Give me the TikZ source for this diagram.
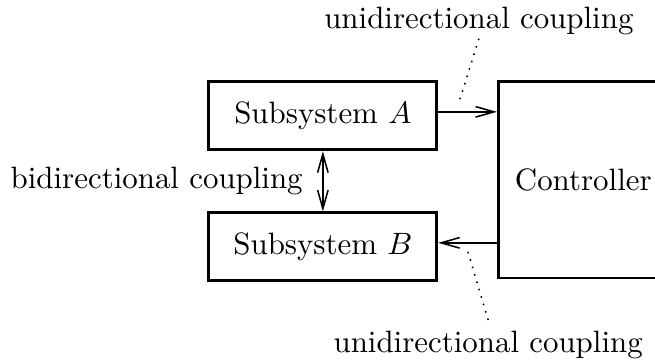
\documentclass[tikz,border=0pt]{standalone}
\usepackage{tikz}
\usetikzlibrary{positioning,arrows.meta}
\tikzset{
  line/.style={->, line width=0.5pt},
  box/.style={draw, line width=0.9pt, align=center, inner sep=3pt},
  subbox/.style={box, minimum width=73.8pt, minimum height=22pt},
  note/.style={dotted, line width=0.5pt}
}

\begin{document}
\begin{tikzpicture}[>={Straight Barb[length=6pt,width=3.4pt]}]
  \path[use as bounding box, clip] (0,0) rectangle (212pt,-117.2pt);

  \node[subbox] (subA) at (104.5pt,-37.5pt) {Subsystem $A$};
  \node[subbox, below=19.5pt of subA] (subB) {Subsystem $B$};
  \node[box, minimum width=55pt, minimum height=63.5pt,
        right=19pt of subA.north east, anchor=north west] (ctrl) {Controller};

  \draw[line] ([yshift=1.3pt]subA.east) -- ([yshift=1.3pt]subA.east -| ctrl.west);
  \draw[line] ([yshift=1.3pt]subB.east -| ctrl.west) -- ([yshift=1.3pt]subB.east);
  \draw[line, <->] (subA) -- coordinate (mid) (subB);

  \node[left=3pt of mid] (bilabel) {bidirectional coupling};
  \node (uniA) at (155pt,-6.9pt) {unidirectional coupling};
  \node (uniB) at (158pt,-111.6pt) {unidirectional coupling};

  % pointers from the labels to the two one-way links
  \coordinate (tipA) at (148.5pt,-33.3pt);
  \coordinate (tipB) at (151.1pt,-80.3pt);
  \draw[note] ([yshift=2.4pt]uniA.south) -- (tipA);
  \draw[note] (uniB.north) -- (tipB);
\end{tikzpicture}
\end{document}
